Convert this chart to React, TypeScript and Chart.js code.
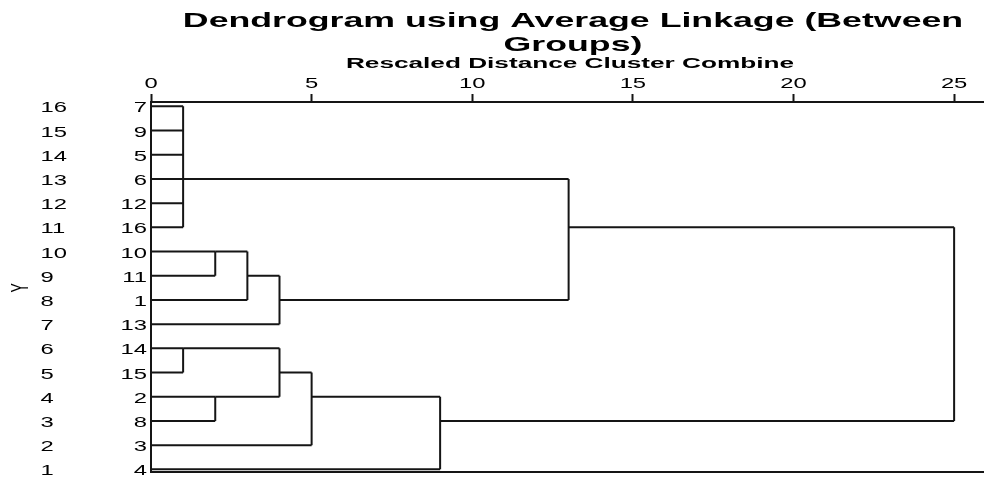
import React, { useEffect, useRef } from "react";
import { Chart, registerables } from "chart.js";

Chart.register(...registerables);

// ---- data ----
const titleLines = ["Dendrogram using Average Linkage (Between", "Groups)"];
const subtitleText = "Rescaled Distance Cluster Combine";
const yAxisTitle = "Y";
const xTickValues = [0, 5, 10, 15, 20, 25];
// leaf order, top to bottom (case labels)
const caseLabels = ["7", "9", "5", "6", "12", "16", "10", "11", "1", "13", "14", "15", "2", "8", "3", "4"];
// outer row numbers, top to bottom
const yRowLabels = ["16", "15", "14", "13", "12", "11", "10", "9", "8", "7", "6", "5", "4", "3", "2", "1"];
// merges: children ids (0..15 = leaf rows, 16.. = earlier merges in order)
const mergeChildren = [
  [0, 1, 2, 3, 4, 5],
  [6, 7],
  [17, 8],
  [18, 9],
  [16, 19],
  [10, 11],
  [12, 13],
  [21, 22],
  [23, 14],
  [24, 15],
  [20, 25],
];
// rescaled combine distance of each merge
const mergeDistance = [1, 2, 3, 4, 13, 1, 2, 4, 5, 9, 25];
// row where each merged cluster's outgoing line is drawn
const mergeRow = [3, 6, 7, 8, 5, 10, 12, 11, 12, 13, 9];

function buildSegments() {
  const nodeX: number[] = caseLabels.map(() => 0);
  const nodeY: number[] = caseLabels.map((_, i) => i);
  const segs: { x: number; y: number }[][] = [];
  mergeChildren.forEach((children, k) => {
    const d = mergeDistance[k];
    const ys = children.map((c) => nodeY[c]);
    children.forEach((c) => {
      segs.push([
        { x: nodeX[c], y: nodeY[c] },
        { x: d, y: nodeY[c] },
      ]);
    });
    segs.push([
      { x: d, y: Math.min(...ys) },
      { x: d, y: Math.max(...ys) },
    ]);
    nodeX.push(d);
    nodeY.push(mergeRow[k]);
  });
  return segs;
}

const FONT = '"Liberation Sans", Arial, sans-serif';

function drawStretched(
  ctx: CanvasRenderingContext2D,
  text: string,
  x: number,
  y: number,
  sx: number,
  align: CanvasTextAlign
) {
  ctx.save();
  ctx.translate(x, y);
  ctx.scale(sx, 1);
  ctx.textAlign = align;
  ctx.textBaseline = "alphabetic";
  ctx.fillText(text, 0, 0);
  ctx.restore();
}

const textPlugin = {
  id: "spssText",
  afterDraw(chart: any) {
    const ctx: CanvasRenderingContext2D = chart.ctx;
    const xs = chart.scales.x;
    const ys = chart.scales.y;
    ctx.save();
    ctx.fillStyle = "#000";

    // title
    ctx.font = `bold 21px ${FONT}`;
    drawStretched(ctx, titleLines[0], 573, 27, 1.7, "center");
    drawStretched(ctx, titleLines[1], 573, 51, 1.7, "center");

    // subtitle
    ctx.font = `bold 14px ${FONT}`;
    drawStretched(ctx, subtitleText, 570, 68, 1.87, "center");

    // x tick labels
    ctx.font = `14px ${FONT}`;
    xTickValues.forEach((v) => {
      drawStretched(ctx, String(v), xs.getPixelForValue(v), 88, 1.7, "center");
    });

    // row labels
    yRowLabels.forEach((t, i) => {
      drawStretched(ctx, t, 40.5, ys.getPixelForValue(i) + 6, 1.7, "left");
    });
    caseLabels.forEach((t, i) => {
      drawStretched(ctx, t, 147, ys.getPixelForValue(i) + 6, 1.7, "right");
    });

    // rotated Y title
    const midY = (ys.getPixelForValue(0) + ys.getPixelForValue(caseLabels.length - 1)) / 2;
    ctx.save();
    ctx.translate(21, midY);
    ctx.scale(1.7, 1);
    ctx.rotate(-Math.PI / 2);
    ctx.textAlign = "center";
    ctx.textBaseline = "middle";
    ctx.fillText(yAxisTitle, 0, 0);
    ctx.restore();

    ctx.restore();
  },
};

export default function App() {
  const canvasRef = useRef<HTMLCanvasElement | null>(null);

  useEffect(() => {
    document.body.style.margin = "0";
    const canvas = canvasRef.current;
    if (!canvas) return;
    const segs = buildSegments();
    const lineColor = "#151515";
    const chart = new Chart(canvas, {
      type: "scatter",
      data: {
        datasets: segs.map((s) => ({
          data: s,
          showLine: true,
          borderColor: lineColor,
          backgroundColor: lineColor,
          borderWidth: 2,
          pointRadius: 0,
          pointHoverRadius: 0,
          fill: false,
        })),
      },
      options: {
        responsive: false,
        animation: false,
        events: [],
        layout: { padding: { left: 151, top: 94, right: 0, bottom: 6 } },
        plugins: {
          legend: { display: false },
          tooltip: { enabled: false },
          title: { display: false },
        },
        scales: {
          x: {
            type: "linear",
            position: "top",
            min: 0,
            max: 25.93,
            afterFit: (scale: any) => {
              scale.height = 8;
            },
            ticks: { display: false, stepSize: 5, includeBounds: false },
            grid: {
              display: true,
              drawOnChartArea: false,
              drawTicks: true,
              tickLength: 8,
              tickColor: lineColor,
              tickWidth: 2,
            },
            border: { display: true, color: lineColor, width: 2 },
          },
          x2: {
            type: "linear",
            position: "bottom",
            min: 0,
            max: 25.93,
            afterFit: (scale: any) => {
              scale.height = 0;
            },
            ticks: { display: false },
            grid: { display: false },
            border: { display: true, color: lineColor, width: 2 },
          },
          y: {
            type: "linear",
            reverse: true,
            min: -0.18,
            max: 15.11,
            afterFit: (scale: any) => {
              scale.width = 0;
            },
            ticks: { display: false },
            grid: { display: false },
            border: { display: true, color: lineColor, width: 2 },
          },
        },
      },
      plugins: [textPlugin],
    } as any);
    return () => chart.destroy();
  }, []);

  return (
    <div style={{ position: "absolute", left: 0, top: 0, width: 984, height: 478 }}>
      <canvas ref={canvasRef} width={984} height={478} />
    </div>
  );
}
